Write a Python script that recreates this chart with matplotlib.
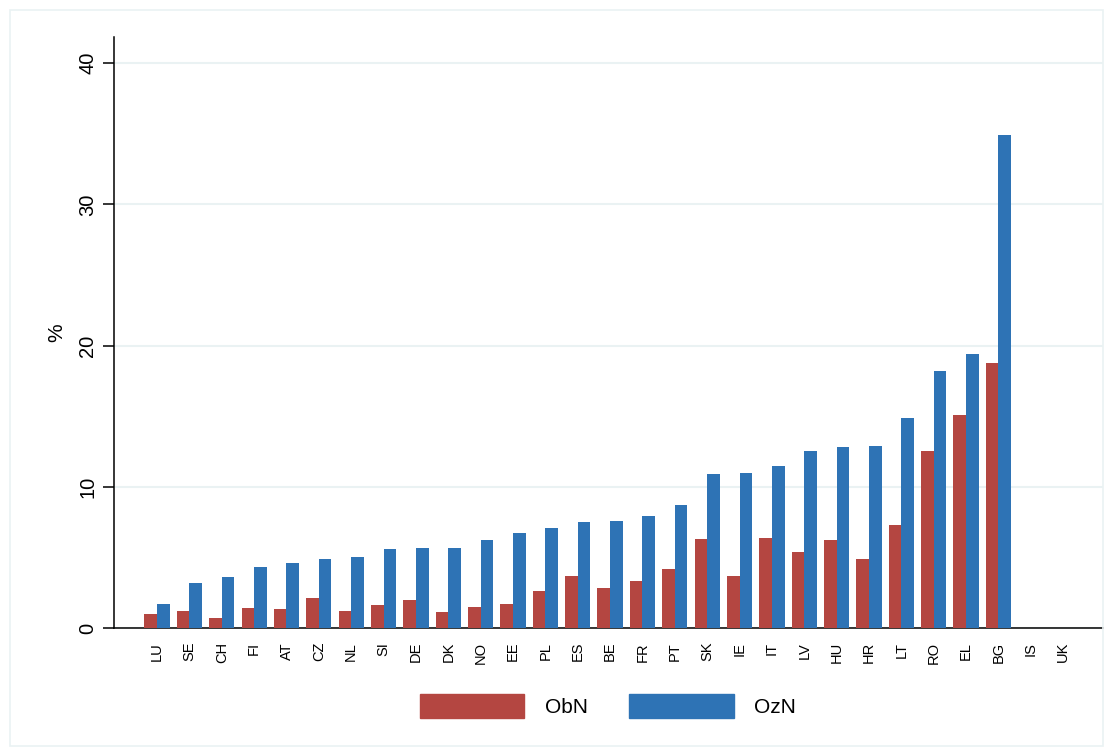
import matplotlib
matplotlib.use("Agg")
import matplotlib.pyplot as plt
from matplotlib.patches import Rectangle, Patch
import numpy as np

plt.rcParams['font.family'] = ['Liberation Sans', 'DejaVu Sans']

countries = ["LU", "SE", "CH", "FI", "AT", "CZ", "NL", "SI", "DE", "DK",
             "NO", "EE", "PL", "ES", "BE", "FR", "PT", "SK", "IE", "IT",
             "LV", "HU", "HR", "LT", "RO", "EL", "BG", "IS", "UK"]
obn = [1.0, 1.2, 0.7, 1.4, 1.35, 2.1, 1.2, 1.6, 2.0, 1.1,
       1.5, 1.7, 2.6, 3.7, 2.8, 3.3, 4.2, 6.3, 3.7, 6.4,
       5.4, 6.2, 4.9, 7.3, 12.5, 15.1, 18.8, np.nan, np.nan]
ozn = [1.7, 3.2, 3.6, 4.3, 4.6, 4.9, 5.0, 5.6, 5.7, 5.7,
       6.2, 6.7, 7.1, 7.5, 7.6, 7.9, 8.7, 10.9, 11.0, 11.5,
       12.5, 12.8, 12.9, 14.9, 18.2, 19.4, 34.9, np.nan, np.nan]
yticks = [0, 10, 20, 30, 40]

red = "#b44641"
blue = "#2e73b5"
grid = "#eaf2f3"

fig = plt.figure(figsize=(11.11, 7.56), dpi=100)
fig.patches.append(Rectangle((10 / 1111, 10 / 756), 1093 / 1111, 736 / 756,
                             transform=fig.transFigure, fill=False,
                             edgecolor=grid, linewidth=1.2))
ax = fig.add_axes([114 / 1111, 128 / 756, 989 / 1111, 591 / 756])

x = np.arange(len(countries))
w = 0.39
ax.bar(x - w / 2, obn, width=w, color=red, label="ObN", zorder=3)
ax.bar(x + w / 2, ozn, width=w, color=blue, label="OzN", zorder=3)

ax.set_xlim(-1.33, 29.23)
ax.set_ylim(0, 41.85)
ax.set_yticks(yticks)
ax.set_yticklabels([str(t) for t in yticks], rotation=90, va="center", fontsize=14.5)
ax.yaxis.grid(True, color=grid, linewidth=1.5, zorder=0)
ax.tick_params(axis="y", length=8, width=1.1, pad=4)
ax.set_xticks(x)
ax.set_xticklabels(countries, rotation=90, fontsize=10.5)
ax.tick_params(axis="x", length=0, pad=10)
for side in ("top", "right"):
    ax.spines[side].set_visible(False)
for side in ("left", "bottom"):
    ax.spines[side].set_linewidth(1.1)
ax.set_ylabel("%", fontsize=15, labelpad=9)

handles = [Patch(color=red, label="ObN"), Patch(color=blue, label="OzN")]
fig.legend(handles=handles, loc="center", bbox_to_anchor=(608 / 1111, 1 - 706 / 756),
           ncol=2, frameon=False, fontsize=15, handlelength=5.0, handleheight=1.45,
           handletextpad=1.0, columnspacing=2.0)

fig.savefig("out.png", dpi=100, facecolor="white")
